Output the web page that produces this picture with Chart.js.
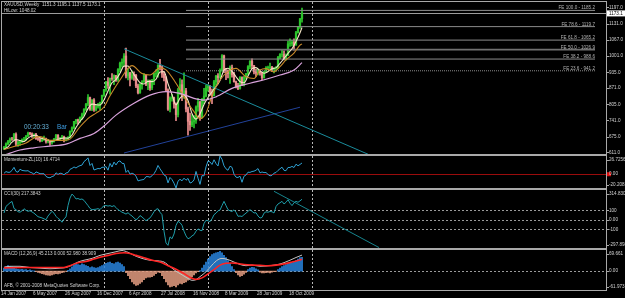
<!DOCTYPE html>
<html>
<head>
<meta charset="utf-8">
<script src="https://cdn.jsdelivr.net/npm/chart.js@4.4.1/dist/chart.umd.min.js"></script>
<style>
  html, body { margin: 0; padding: 0; background: #000; }
  body { width: 625px; height: 298px; position: relative; overflow: hidden; }
  canvas { position: absolute; left: 0; }
</style>
</head>
<body>
<canvas id="priceChart" width="625" height="156" style="top:0px"></canvas>
<canvas id="momChart" width="625" height="36" style="top:154px"></canvas>
<canvas id="cciChart" width="625" height="62" style="top:188px"></canvas>
<canvas id="macdChart" width="625" height="50" style="top:248px"></canvas>
<script>
// =========================
// Data (weekly XAUUSD)
// =========================
const dateTicks = [0, 16, 32, 48, 64, 80, 96, 112, 128, 144];
const dateLabels = ["14 Jan 2007", "6 May 2007", "26 Aug 2007", "16 Dec 2007", "6 Apr 2008",
  "27 Jul 2008", "16 Nov 2008", "8 Mar 2009", "28 Jun 2009", "18 Oct 2009"];
const yearStarts = [50, 102, 154];

const firstOpen = 627;
const closes = [
  631, 646, 655, 666, 665, 684, 645, 651, 654, 662,
  663, 677, 689, 686, 678, 683, 667, 665, 659, 667,
  668, 655, 656, 650, 655, 666, 681, 663, 669, 674,
  662, 667, 672, 697, 711, 737, 743, 738, 753, 764,
  785, 806, 833, 786, 823, 783, 797, 800, 813, 842,
  865, 896, 882, 911, 910, 922, 905, 946, 972, 976,
  1001, 920, 933, 912, 925, 923, 880, 853, 886, 896,
  924, 887, 900, 872, 904, 929, 930, 963, 956, 928,
  913, 863, 786, 830, 833, 807, 764, 865, 885, 838,
  860, 787, 737, 723, 735, 740, 795, 815, 753, 822,
  839, 872, 879, 853, 840, 897, 920, 914, 941, 1002,
  942, 941, 930, 954, 925, 897, 880, 870, 914, 884,
  915, 930, 958, 980, 962, 937, 932, 942, 932, 913,
  937, 953, 955, 956, 947, 952, 955, 995, 1007, 1007,
  990, 1003, 1050, 1051, 1056, 1045, 1095, 1118, 1151.3, 1173.1
];
const highs = [
  636, 650, 660, 670, 672, 688, 690, 656, 660, 666,
  672, 680, 693, 692, 690, 686, 688, 675, 670, 670,
  677, 669, 664, 660, 657, 668, 684, 683, 672, 680,
  677, 670, 675, 699, 715, 737, 745, 746, 755, 770,
  788, 810, 845, 835, 825, 829, 805, 810, 815, 843,
  866, 899, 914, 912, 930, 925, 923, 950, 976, 990,
  1011, 1033, 950, 935, 941, 937, 927, 887, 890, 902,
  930, 925, 905, 904, 907, 931, 945, 966, 988, 960,
  937, 918, 868, 836, 846, 835, 812, 870, 910, 905,
  933, 870, 795, 770, 764, 760, 800, 830, 818, 830,
  870, 883, 885, 881, 867, 903, 923, 930, 949, 1007,
  1005, 950, 945, 961, 964, 935, 900, 891, 918, 917,
  919, 931, 962, 982, 990, 963, 947, 948, 945, 935,
  940, 958, 960, 972, 959, 953, 958, 1000, 1011, 1025,
  1022, 1010, 1061, 1070, 1064, 1070, 1101, 1120, 1153, 1195.1
];
const lows = [
  622, 628, 643, 650, 660, 663, 638, 636, 640, 650,
  655, 660, 675, 682, 672, 670, 664, 660, 654, 655,
  660, 649, 650, 640, 645, 653, 664, 660, 659, 666,
  654, 658, 662, 670, 693, 707, 726, 725, 733, 745,
  760, 781, 800, 781, 780, 777, 779, 790, 784, 809,
  838, 858, 870, 847, 902, 885, 898, 898, 938, 956,
  963, 912, 904, 880, 906, 902, 873, 848, 850, 867,
  894, 881, 865, 862, 865, 885, 916, 915, 945, 914,
  900, 860, 781, 775, 818, 790, 740, 755, 845, 820,
  830, 775, 681, 700, 715, 710, 728, 778, 741, 750,
  808, 836, 859, 842, 808, 840, 882, 888, 910, 940,
  934, 905, 912, 890, 915, 895, 872, 865, 867, 881,
  880, 908, 925, 950, 950, 929, 918, 925, 923, 905,
  911, 935, 945, 950, 938, 933, 940, 950, 990, 996,
  985, 984, 1003, 1040, 1042, 1025, 1045, 1093, 1112, 1137.5
];

// moving averages (fast / mid / slow)
const fastIdx = [0, 2, 4, 6, 8, 10, 12, 14, 16, 18, 20, 22, 24, 26, 28, 30, 32, 34, 36, 38,
  40, 42, 44, 46, 48, 50, 52, 54, 56, 58, 60, 62, 64, 66, 68, 70, 72, 74, 76, 78,
  80, 82, 84, 86, 88, 90, 92, 94, 96, 98, 100, 102, 104, 106, 108, 110, 112, 114, 116, 118,
  120, 122, 124, 126, 128, 130, 132, 134, 136, 138, 140, 142, 144, 146, 148, 149];
const fastVal = [623.8, 633.6, 652.6, 663, 659.8, 655, 669, 678.6, 680.6, 670.4,
  665.2, 661, 656.8, 661.6, 666.8, 669.8, 668.8, 681.8, 712, 736.4,
  756.6, 788.2, 806.6, 804.4, 803.2, 823.4, 859.6, 892.8, 906, 931,
  960, 960.4, 938.2, 914.6, 893.4, 887.8, 898.6, 897.4, 907, 936.4,
  938, 889.2, 845, 804, 830.8, 842.4, 821.4, 768.4, 746, 767.6,
  804.8, 833, 856.6, 877.8, 902.4, 943.8, 951.2, 938.4, 917.2, 897.2,
  892.6, 920.2, 949, 953.8, 941, 931.2, 938, 949.6, 953, 971.2,
  990.8, 1011.4, 1030, 1059.4, 1094.7, 1116.2];
const midIdx = [0, 5, 11, 15, 18, 23, 30, 33, 38, 43, 46, 50, 53, 58, 64, 69, 73, 78, 81, 86,
  91, 95, 98, 101, 104, 108, 113, 116, 121, 125, 128, 131, 135, 138, 141, 145, 148, 149];
const midVal = [623, 635, 649, 670, 675, 660, 660, 665, 715, 755, 770, 795, 840, 904, 962, 930, 924, 953, 945, 891,
  823, 776, 748, 770, 840, 904, 944, 951, 917, 910, 944, 950, 937, 958, 985, 1013, 1045, 1050];
const slowIdx = [0, 8, 15, 23, 31, 38, 45, 50, 56, 65, 73, 81, 88, 95, 100, 106, 114, 123, 131, 138, 145, 149];
const slowVal = [600, 621, 630, 637, 645, 668, 688, 718, 762, 810, 843, 857, 850, 830, 823, 836, 870, 891, 907, 924, 944, 974];

// trend lines and Fibonacci expansion
const trendDownX = [60, 182];
const trendDownY = [1030, 604];
const trendUpX = [60, 148];
const trendUpY = [609, 794];
const fibLevels = ["100.0", "78.6", "61.8", "50.0", "38.2", "23.6"];
const fibPrices = [1185.2, 1119.7, 1065.2, 1026.9, 988.6, 941.2];
const fibFrom = 91;
const fibTo = 295.5;
const priceTicks = [1197, 1131, 1067, 1001, 935, 871, 805, 741, 675, 611];

// Momentum-ZL(10)
const momentum = [
  1.3, 3.9, 2.8, 2.9, 5.6, 10.1, 4.0, 3.0, 7.4, 5.6,
  5.1, 4.8, 5.2, 3.0, 2.0, -0.1, 3.4, 2.2, 0.8, 0.8,
  0.8, -3.2, -4.8, -5.2, -3.4, -2.5, 2.1, -0.3, 1.5, 1.0,
  -0.9, 1.8, 2.4, 7.2, 8.5, 10.7, 9.1, 11.3, 12.6, 13.4,
  18.6, 20.8, 24.0, 12.8, 15.8, 6.2, 7.3, 8.4, 8.0, 10.2,
  10.2, 11.2, 5.9, 15.9, 10.6, 17.8, 13.6, 18.3, 19.6, 15.9,
  15.7, 2.7, 5.8, 0.1, 1.6, 0.1, -2.8, -9.8, -8.8, -8.2,
  -7.7, -3.6, -3.5, -4.4, -2.3, 0.7, 5.7, 12.9, 7.9, 3.6,
  -1.2, -2.7, -12.7, -4.8, -7.9, -13.1, -20.2, -10.2, -7.4, -9.7,
  -5.8, -8.8, -6.2, -12.9, -11.8, -8.3, 4.1, -5.8, -14.9, -1.9,
  -2.4, 10.8, 19.3, 18.0, 14.3, 21.2, 15.7, 12.1, 26.7, 21.9,
  12.3, 7.9, 5.8, 11.8, 10.1, 0.0, -4.3, -4.8, -2.9, -11.8,
  -2.9, -1.2, 3.0, 2.7, 4.0, 4.5, 5.9, 8.3, 2.0, 3.3,
  2.4, 2.5, -0.3, -2.4, -1.6, 1.6, 2.5, 5.6, 8.0, 10.3,
  5.7, 5.2, 9.9, 9.9, 11.5, 9.8, 14.7, 12.4, 14.3, 16.47
];
const momTicks = [26.7256, 0, -20.2081];
const momLabels = ["26.7256", "0.00", "-20.2081"];

// CCI(30)
const cciIdx = [0, 1, 3, 4, 5, 6, 7, 8, 9, 10, 11, 12, 13, 15, 17, 19, 21, 22, 24, 25,
  26, 27, 28, 29, 30, 31, 32, 33, 34, 35, 36, 37, 38, 39, 40, 41, 42, 43, 44, 45,
  46, 47, 48, 49, 50, 51, 52, 53, 54, 55, 56, 57, 58, 59, 60, 61, 62, 63, 64, 65,
  66, 67, 68, 69, 70, 71, 72, 73, 74, 75, 76, 77, 78, 79, 80, 81, 82, 83, 84, 85,
  86, 87, 88, 89, 90, 91, 92, 93, 94, 95, 96, 97, 98, 99, 100, 101, 102, 103, 104, 105,
  106, 107, 108, 109, 110, 111, 112, 113, 114, 115, 116, 117, 118, 119, 120, 121, 122, 123, 124, 125,
  126, 127, 128, 129, 130, 131, 132, 133, 134, 135, 136, 137, 138, 139, 140, 141, 142, 143, 144, 145,
  146, 147, 148, 149];
const cciVal = [72, 142, 180, 194, 120, 107, 86, 80, 95, 117, 100, 90, 96, 70, 33, 20, 1, 40, 90, 70,
  37, 15, 1, -26, 10, 30, 150, 230, 272, 250, 220, 225, 215, 220, 205, 177, 150, 120, 107, 110,
  112, 118, 108, 130, 148, 151, 145, 150, 140, 150, 130, 107, 95, 80, 72, 60, 75, 55, 40, 20,
  1, 15, 45, 30, 10, -9, 5, 20, 50, 85, 110, 117, 80, 54, -120, -245, -270, -180, -200, -150,
  -60, -16, -30, -58, -120, -170, -200, -190, -170, -157, -120, -96, -110, -115, -40, -5, -10, -20, 10, 54,
  70, 95, 103, 150, 195, 150, 107, 95, 88, 105, 80, 37, 40, 35, 54, 70, 90, 107, 90, 72,
  75, 40, 19, 25, 70, 85, 80, 88, 85, 72, 140, 167, 180, 195, 167, 185, 212, 175, 150, 180,
  195, 185, 200, 217.4];
const cciTrendX = [135, 187.5];
const cciTrendY = [301, -293];
const cciTicks = [314.830, 100, 0, -100, -297.898];
const cciLabels = ["314.830", "100", "0.00", "-100", "-297.898"];
const cciLevels = [100, 0, -100];

// MACD(12,26,9)
const macdIdx = [0, 3, 8, 13, 18, 23, 28, 31, 34, 37, 40, 44, 48, 52, 56, 59, 62, 65, 69, 73,
  77, 80, 83, 86, 89, 92, 94, 96, 98, 101, 104, 107, 109, 112, 115, 118, 121, 124, 128, 131,
  134, 137, 140, 143, 146, 149];
const macdVal = [13, 16, 16, 12, 10, 8, 10, 12, 20, 30, 36, 42, 52, 58, 64, 68, 62, 52, 42, 36,
  34, 30, 15, 0, -12, -24, -30, -28, -18, -2, 20, 38, 42, 38, 30, 22, 18, 20, 16, 17,
  19, 22, 28, 36, 45, 53];
const sigIdx = [0, 10, 20, 30, 33, 37, 41, 45, 48, 52, 56, 60, 63, 66, 70, 74, 78, 82, 86, 90,
  93, 96, 99, 102, 105, 108, 111, 114, 117, 120, 124, 128, 132, 136, 140, 144, 147, 149];
const sigVal = [11, 12, 12, 12, 18, 28, 32, 40, 46, 52, 58, 60.5, 58, 52, 44, 36, 30, 18, 6.6, -8,
  -20, -27, -22, -9, 5, 20, 26, 27, 25, 22, 20, 19, 18, 20, 24, 30, 35, 38.9];
const hist = [
  10, 14, 18, 16, 14, 12, 8, 6,
  5, 6, 4, 5, 3, 4, 2, 1,
  -2, -4, -6, -8, -10, -12, -13, -14, -12, -10, -8, -9, -7, -5, -3, -1,
  3, 8, 14, 20, 24, 22, 20, 24, 22, 18, 16, 12, 14, 12, 10, 12,
  15, 18, 22, 26, 28, 30, 26, 24, 28, 30, 27, 22, 15,
  -5, -15, -25, -35, -42, -47, -45, -40, -35, -28, -22, -20, -20, -18, -14, -8, -3,
  -5, -15, -25, -35, -45, -52, -50, -48, -52, -45, -40, -42, -38, -35, -30, -25, -18, -12,
  -6, -2, 2,
  10, 20, 30, 40, 48, 55, 58, 60, 62, 65, 60, 52, 45, 35, 25,
  15, 5, -5, -12, -17, -15, -10, -4,
  5, 10, 13, 12, 8, 4,
  -3, -6, -6, -5, -4, -6, -3, -2, -1,
  5, 10, 15, 18, 22, 24, 26, 28, 30, 35, 40, 45, 45.2
];
const macdTicks = [69.661, 0, -61.973];
const macdLabels = ["69.661", "0.00", "-61.973"];

// =========================
// Helpers
// =========================
const FONT = '"Liberation Sans", Arial, sans-serif';
const TXT = "#d2d2d2";
const FRAME = "#a8a8a8";
const X_MIN = -1;
const X_MAX = 301;

function pts(xs, ys) {
  return xs.map((x, i) => ({ x: x, y: ys[i] }));
}

function perBar(vals) {
  return vals.map((y, i) => ({ x: i, y: y }));
}

function lineSet(data, color, width, extra) {
  return Object.assign({
    type: "line", data: data, borderColor: color, borderWidth: width,
    pointRadius: 0, fill: false, tension: 0, order: 1,
  }, extra || {});
}

function hLine(ctx, a, py, color, dash, width) {
  ctx.save();
  ctx.strokeStyle = color;
  ctx.lineWidth = width || 1;
  ctx.setLineDash(dash || []);
  ctx.beginPath();
  ctx.moveTo(a.left, Math.round(py) + 0.5);
  ctx.lineTo(a.right, Math.round(py) + 0.5);
  ctx.stroke();
  ctx.restore();
}

function decor(cfg) {
  return {
    id: "decor",
    beforeDatasetsDraw(chart) {
      const { ctx, chartArea: a, scales: { x, y } } = chart;
      ctx.save();
      ctx.strokeStyle = "#b8b8b8";
      ctx.lineWidth = 1;
      ctx.setLineDash([2, 2]);
      yearStarts.forEach((i) => {
        const px = Math.round(x.getPixelForValue(i)) + 0.5;
        if (px > a.right) return;
        ctx.beginPath();
        ctx.moveTo(px, a.top);
        ctx.lineTo(px, a.bottom);
        ctx.stroke();
      });
      ctx.restore();
      (cfg.levels || []).forEach((v) => hLine(ctx, a, y.getPixelForValue(v), cfg.levelColor, cfg.levelDash, 1));
      if (cfg.before) cfg.before(ctx, a, x, y);
    },
    afterDraw(chart) {
      const { ctx, chartArea: a, scales: { x, y } } = chart;
      ctx.save();
      ctx.strokeStyle = FRAME;
      ctx.lineWidth = 1;
      ctx.strokeRect(a.left - 0.5, a.top - 0.5, a.right - a.left + 1, a.bottom - a.top + 1);
      // price axis labels
      ctx.font = "4.6px " + FONT;
      ctx.textBaseline = "middle";
      ctx.textAlign = "left";
      cfg.ticks.forEach((v, i) => {
        let py = y.getPixelForValue(v);
        if (cfg.inset) py = Math.min(Math.max(py, a.top + 3.5), a.bottom - 3.5);
        ctx.strokeStyle = FRAME;
        ctx.beginPath();
        ctx.moveTo(a.right + 1, Math.round(py) + 0.5);
        ctx.lineTo(a.right + 3, Math.round(py) + 0.5);
        ctx.stroke();
        if (cfg.marker === v) {
          ctx.fillStyle = "#e01010";
          ctx.fillRect(a.right + 1, py - 2, 4, 4);
        }
        ctx.fillStyle = TXT;
        ctx.fillText(cfg.labels[i], a.right + 3, py);
      });
      // panel titles
      ctx.fillStyle = TXT;
      (cfg.titles || []).forEach((t) => ctx.fillText(t[0], 4, t[1] < 0 ? a.bottom + t[1] : a.top + t[1]));
      if (cfg.after) cfg.after(ctx, a, x, y);
      ctx.restore();
    },
  };
}

function makePanel(id, cfg) {
  const xAxis = cfg.dates ? {
    type: "linear", min: X_MIN, max: X_MAX, offset: false, position: "bottom",
    grid: { display: false, drawTicks: false }, border: { display: false },
    ticks: {
      autoSkip: false, maxRotation: 0, minRotation: 0, align: "start", padding: 1,
      color: TXT, font: { family: FONT, size: 4.6 },
      callback: (v, i) => dateLabels[i],
    },
    afterBuildTicks: (s) => { s.ticks = dateTicks.map((i) => ({ value: i - 1.5 })); },
    afterFit: (s) => { s.height = 8; },
  } : { type: "linear", display: false, min: X_MIN, max: X_MAX, offset: false };

  return new Chart(document.getElementById(id), {
    type: "line",
    data: { datasets: cfg.datasets },
    options: {
      responsive: false,
      animation: false,
      devicePixelRatio: 1,
      events: [],
      layout: { padding: { left: 2, right: 0, top: 2, bottom: cfg.dates ? 0 : 2 } },
      plugins: { legend: { display: false }, tooltip: { enabled: false } },
      scales: {
        x: xAxis,
        y: {
          type: "linear", position: "right", min: cfg.yMin, max: cfg.yMax,
          grid: { display: false, drawTicks: false }, border: { display: false },
          ticks: { display: false },
          afterFit: (s) => { s.width = 19; },
        },
      },
    },
    plugins: [decor(cfg)],
  });
}

// =========================
// Price panel
// =========================
const opens = [firstOpen].concat(closes.slice(0, -1));
const lastClose = closes[closes.length - 1];
const candleColors = closes.map((c, i) => (c >= opens[i] ? "#2cc42c" : "#e88c8c"));

const fibSets = fibPrices.map((p, i) => lineSet(pts([fibFrom, fibTo], [p, p]),
  fibLevels[i] === "50.0" ? "#707070" : "#8c8c8c",
  fibLevels[i] === "50.0" ? 1.6 : 1,
  { order: 3, borderDash: fibLevels[i] === "23.6" ? [1, 1] : [] }));

makePanel("priceChart", {
  yMin: 604.9, yMax: 1219.2,
  ticks: priceTicks, labels: priceTicks.map((v) => v.toFixed(1)), inset: false,
  titles: [["XAUUSD,Weekly  1151.3 1195.1 1137.5 1173.1", 2.8], ["HiLow: 1048.02", 8.6]],
  datasets: [
    { type: "bar", data: closes.map((c, i) => ({ x: i, y: [lows[i], highs[i]] })),
      backgroundColor: candleColors, barThickness: 1, grouped: false, order: 6 },
    { type: "bar", data: closes.map((c, i) => ({ x: i, y: [opens[i], c] })),
      backgroundColor: candleColors, barThickness: 1.6, grouped: false, order: 5 },
    ...fibSets,
    lineSet(pts(trendDownX, trendDownY), "#1a8c9c", 1, { order: 2 }),
    lineSet(pts(trendUpX, trendUpY), "#22429a", 1, { order: 2 }),
    lineSet(pts(slowIdx, slowVal), "#d9a2dc", 1.2, { cubicInterpolationMode: "monotone" }),
    lineSet(pts(midIdx, midVal), "#c98a2a", 1.1, { cubicInterpolationMode: "monotone" }),
    lineSet(pts(fastIdx, fastVal), "#f4e6c6", 1.1, { cubicInterpolationMode: "monotone" }),
  ],
  before(ctx, a, x, y) {
    hLine(ctx, a, y.getPixelForValue(lastClose), "#9c9c9c");
  },
  after(ctx, a, x, y) {
    ctx.font = "4.6px " + FONT;
    ctx.fillStyle = "#b4b4b4";
    ctx.textAlign = "right";
    ctx.textBaseline = "alphabetic";
    const rx = x.getPixelForValue(fibTo);
    fibPrices.forEach((p, i) => ctx.fillText("FE " + fibLevels[i] + " - " + p.toFixed(1), rx, y.getPixelForValue(p) - 1));

    const py = y.getPixelForValue(lastClose);
    ctx.fillStyle = "#ffffff";
    ctx.fillRect(a.right + 1, py - 3, 625 - a.right - 1, 6);
    ctx.fillStyle = "#000000";
    ctx.textAlign = "left";
    ctx.textBaseline = "middle";
    ctx.fillText(lastClose.toFixed(1), a.right + 3, py);

    ctx.font = "6.4px " + FONT;
    ctx.fillStyle = "#66b0d6";
    ctx.fillText("00:20:33", 24, 127.7);
    ctx.fillStyle = "#3d9ce0";
    ctx.fillText("Bar", 57, 127.7);
  },
});

// =========================
// Momentum panel
// =========================
makePanel("momChart", {
  yMin: -20.2081, yMax: 26.7256,
  ticks: momTicks, labels: momLabels, inset: true, marker: 0,
  titles: [["Momentum-ZL(10) 16.4714", 3.3]],
  datasets: [lineSet(perBar(momentum), "#2ea0d2", 1)],
  before(ctx, a, x, y) {
    hLine(ctx, a, y.getPixelForValue(0), "#9a0c0c", [], 1.2);
  },
});

// =========================
// CCI panel
// =========================
makePanel("cciChart", {
  yMin: -297.898, yMax: 314.830,
  ticks: cciTicks, labels: cciLabels, inset: true,
  levels: cciLevels, levelColor: "#9a9a9a", levelDash: [2, 2],
  titles: [["CCI(30) 217.3843", 4]],
  datasets: [
    lineSet(pts(cciIdx, cciVal), "#1e9ca8", 1),
    lineSet(pts(cciTrendX, cciTrendY), "#17848e", 1, { order: 2 }),
  ],
});

// =========================
// MACD panel
// =========================
makePanel("macdChart", {
  yMin: -61.973, yMax: 69.661, dates: true,
  ticks: macdTicks, labels: macdLabels, inset: true,
  levels: [0], levelColor: "#9a9a9a", levelDash: [2, 2],
  titles: [["MACD (12,26,9) 45.213 0.000 52.980 38.909", 3.5], ["AFB, \u00a9 2001-2008 MetaQuotes Software Corp.", -4.5]],
  datasets: [
    { type: "bar", data: perBar(hist), backgroundColor: hist.map((v) => (v >= 0 ? "#2a86e0" : "#e8a084")),
      barThickness: 1, grouped: false, order: 5 },
    lineSet(pts(macdIdx, macdVal), "#c4c4c4", 1, { cubicInterpolationMode: "monotone" }),
    lineSet(pts(sigIdx, sigVal), "#ff2424", 1.6, { cubicInterpolationMode: "monotone", order: 0 }),
  ],
});
</script>
</body>
</html>
